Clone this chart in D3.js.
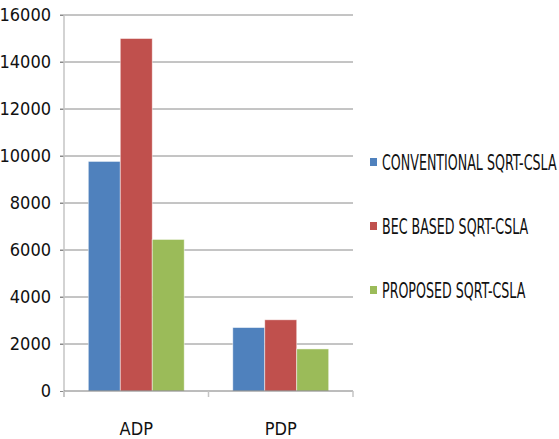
<!DOCTYPE html>
<html>
<head>
<meta charset="utf-8">
<script src="https://cdn.jsdelivr.net/npm/d3@7"></script>
<style>
  body { margin: 0; background: #fff; }
  text { font-family: "Liberation Sans Narrow", "DejaVu Sans Condensed", sans-serif; fill: #111; }
</style>
</head>
<body>
<svg id="chart" width="559" height="439"></svg>
<script>
var categories = ["ADP", "PDP"];
var series = ["CONVENTIONAL SQRT-CSLA", "BEC BASED SQRT-CSLA", "PROPOSED SQRT-CSLA"];
var colors = ["#4f81bd", "#c0504d", "#9bbb59"];
var conventional = [9770, 2700];
var becBased = [15000, 3030];
var proposed = [6450, 1790];
var yTicks = [0, 2000, 4000, 6000, 8000, 10000, 12000, 14000, 16000];

(function() {
  var values = [conventional, becBased, proposed];
  var svg = d3.select('#chart');
  var left = 64, right = 353, plotTop = 15, bottom = 391;

  var y = d3.scaleLinear().domain([0, 16000]).range([bottom, plotTop]);
  var x0 = d3.scaleBand().domain(categories).range([left, right]);
  var x1 = d3.scaleBand().domain(d3.range(series.length))
    .range([0, x0.bandwidth()]).paddingOuter(0.76).paddingInner(0);

  // gridlines
  svg.append('g').selectAll('line').data(yTicks.filter(function(d) { return d > 0; }))
    .enter().append('line')
    .attr('x1', left - 4).attr('x2', right)
    .attr('y1', function(d) { return y(d); }).attr('y2', function(d) { return y(d); })
    .attr('stroke', '#8a8a8a').attr('stroke-width', 1);

  // y axis
  var yAxis = svg.append('g').attr('transform', 'translate(' + left + ',0)')
    .call(d3.axisLeft(y).tickValues(yTicks).tickSize(4).tickPadding(9).tickFormat(d3.format('d')));
  yAxis.select('.domain').remove();
  yAxis.selectAll('.tick line').attr('stroke', '#8a8a8a');
  yAxis.selectAll('text').attr('font-size', 18).attr('fill', '#111')
    .style('font-family', '"Liberation Sans Narrow", "DejaVu Sans Condensed", sans-serif');
  svg.append('line').attr('x1', left).attr('x2', left).attr('y1', plotTop).attr('y2', bottom + 6)
    .attr('stroke', '#c4c4c4').attr('stroke-width', 1.5);

  // bars
  var groups = svg.append('g').selectAll('g').data(categories).enter().append('g')
    .attr('transform', function(c) { return 'translate(' + x0(c) + ',0)'; });
  groups.selectAll('rect').data(function(c, ci) {
      return values.map(function(v, si) { return { s: si, v: v[ci] }; });
    })
    .enter().append('rect')
    .attr('x', function(d) { return x1(d.s); })
    .attr('width', x1.bandwidth())
    .attr('y', function(d) { return y(d.v); })
    .attr('height', function(d) { return bottom - y(d.v); })
    .attr('fill', function(d) { return colors[d.s]; })
    .attr('stroke', 'rgba(255,255,255,0.6)').attr('stroke-width', 0.8);

  // x axis
  svg.append('line').attr('x1', left).attr('x2', right).attr('y1', bottom).attr('y2', bottom)
    .attr('stroke', '#7a7a7a');
  svg.append('g').selectAll('line').data(categories.concat(['end'])).enter().append('line')
    .attr('x1', function(c, i) { return left + i * x0.step(); })
    .attr('x2', function(c, i) { return left + i * x0.step(); })
    .attr('y1', bottom).attr('y2', bottom + 6)
    .attr('stroke', '#c4c4c4').attr('stroke-width', 1.5);
  svg.append('g').selectAll('text').data(categories).enter().append('text')
    .attr('x', function(c) { return x0(c) + x0.bandwidth() / 2; })
    .attr('y', 435)
    .attr('text-anchor', 'middle').attr('font-size', 18)
    .text(function(c) { return c; });

  // legend
  var legend = svg.append('g').selectAll('g').data(series).enter().append('g')
    .attr('transform', function(s, i) { return 'translate(370,' + (162 + i * 64) + ')'; });
  legend.append('rect').attr('x', 0).attr('y', -4).attr('width', 7).attr('height', 8)
    .attr('fill', function(s, i) { return colors[i]; });
  legend.append('text').attr('x', 0).attr('y', 7.5)
    .attr('transform', 'translate(12,0) scale(0.67,1)')
    .attr('font-size', 21)
    .text(function(s) { return s; });
})();
</script>
</body>
</html>
